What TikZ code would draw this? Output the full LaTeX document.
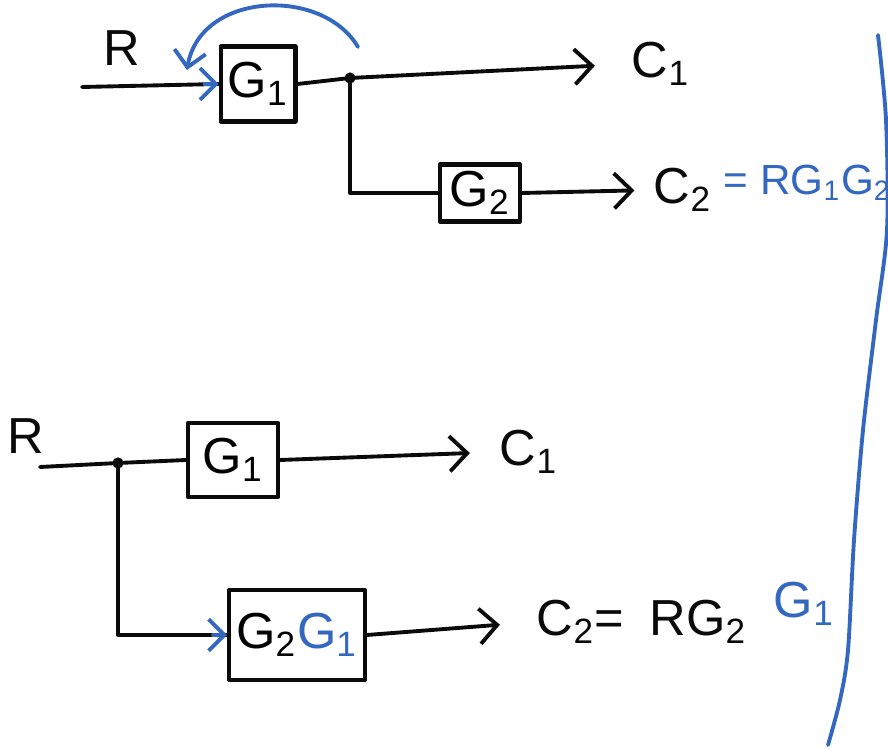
\documentclass[tikz,border=0pt]{standalone}
\usepackage{fontspec}
\setmainfont{Liberation Sans}
\usepackage{xcolor}
\definecolor{penblue}{RGB}{52,104,192}
\definecolor{penblack}{RGB}{10,10,10}
\usetikzlibrary{arrows.meta,positioning}

\begin{document}
\begin{tikzpicture}[x=0.01cm, y=-0.01cm, font=\Large, line width=1.1pt,
    line cap=round, line join=round]
    \tikzset{gainbox/.style={rectangle, draw=penblack, line width=1.2pt,
      text centered, inner sep=2pt},
      sig/.style={draw=penblack, -{Straight Barb[length=5pt, width=10pt]}},
      wire/.style={draw=penblack},
      pentip/.style={draw=penblue, -{Straight Barb[length=4.5pt, width=9pt]}},
      outlbl/.style={anchor=west, inner sep=0pt, text=penblack}}
    \useasboundingbox (0,0) rectangle (888,749);

    % Top: G1 feeding C1 and G2
    \node[text=penblack] (rtop) at (122,48) {R};
    \node[gainbox, minimum width=0.73cm, minimum height=0.75cm] (g1top) at (258,84) {G\textsubscript{1}};
    \node[gainbox, minimum width=0.80cm, minimum height=0.57cm] (g2top) at (480,193) {G\textsubscript{2}};
    \node[outlbl] (c1top) at (630,64) {C\textsubscript{1}};
    \node[outlbl] (c2top) at (652,190) {C\textsubscript{2}};
    \node[outlbl, text=penblue, font=\large] (eqtop) at (722,183) {= RG\textsubscript{1}G\textsubscript{2}};
    \coordinate (in1) at (82,87);
    \coordinate (b1) at (350,78);
    \draw[wire] (in1) -- (g1top.west);
    \draw[wire] (g1top.east) -- (b1);
    \draw[sig, shorten >=10pt] (b1) -- (c1top.west);
    \draw[wire] (b1) |- (g2top.west);
    \draw[sig, shorten >=5pt] (g2top.east) -- (c2top.west);
    \fill[penblack] (b1) circle (1.6pt);
    % moving the pickoff point
    \coordinate (fbstart) at (358,47);
    \coordinate (fbend) at (187,70);
    \draw[pentip] (fbstart) .. controls (322,-14) and (200,-8) .. (fbend);
    \draw[pentip] ([xshift=-0.14cm]g1top.west) -- (g1top.west);

    % Bottom: G1 and G2G1 in parallel
    \node[text=penblack] (rbot) at (26,436) {R};
    \node[gainbox, minimum width=0.90cm, minimum height=0.74cm] (g1bot) at (233,460) {G\textsubscript{1}};
    \node[gainbox, minimum width=1.25cm, minimum height=0.90cm] (g2bot) at (297,635)
      {G\textsubscript{2}\textcolor{penblue}{G\textsubscript{1}}};
    \node[outlbl] (c1bot) at (498,452) {C\textsubscript{1}};
    \node[outlbl] (c2bot) at (535,622) {C\textsubscript{2}=\enspace RG\textsubscript{2}};
    \node[outlbl, text=penblue] (g1eq) at (772,604) {G\textsubscript{1}};
    \coordinate (in2) at (40,467);
    \coordinate (b2) at (118,463);
    \draw[wire] (in2) -- (b2) -- (g1bot.west);
    \draw[sig, shorten >=8pt] (g1bot.east) -- (c1bot.west);
    \draw[wire] (b2) |- (g2bot.west);
    \draw[pentip] ([xshift=-0.14cm]g2bot.west) -- (g2bot.west);
    \draw[sig, shorten >=10pt] (g2bot.east) -- (c2bot.west);
    \fill[penblack] (b2) circle (1.6pt);

    % divider on the right
    \draw[penblue] plot[smooth] coordinates {(878,35) (886,120) (887,230) (876,320)
      (863,430) (854,540) (848,650) (840,700) (828,745)};
  \end{tikzpicture}
\end{document}
